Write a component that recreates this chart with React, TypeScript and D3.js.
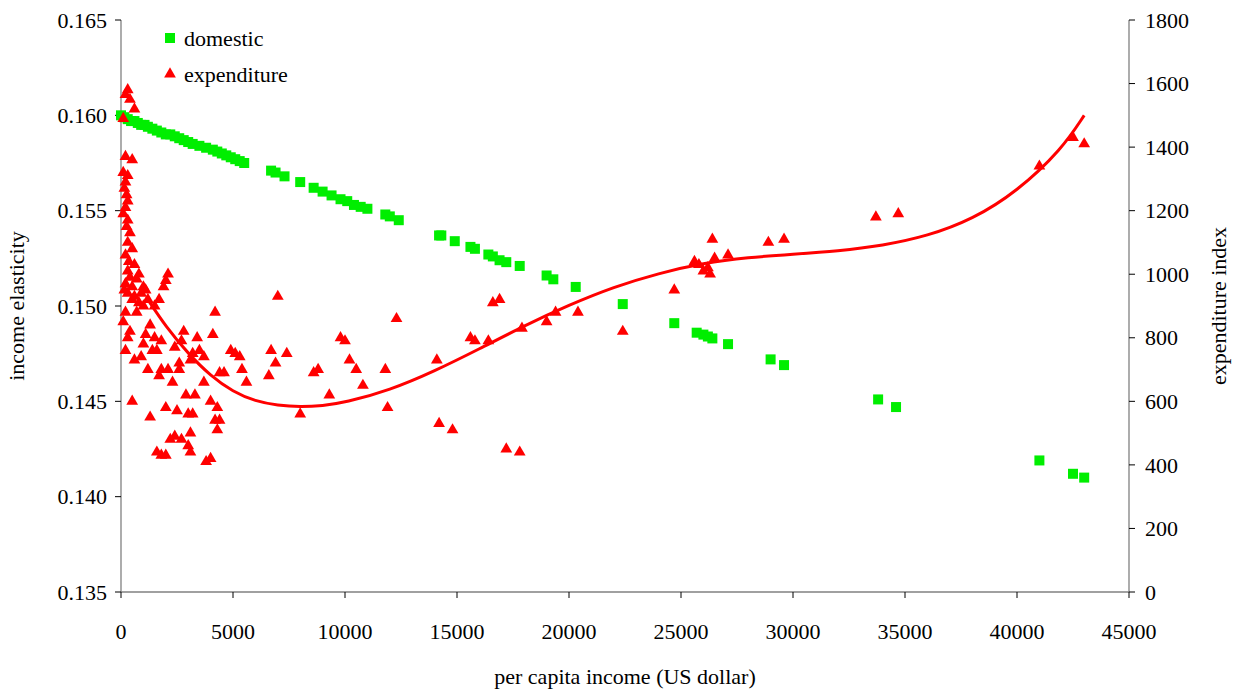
import React from 'react';
import * as d3 from 'd3';

const W = 1242, H = 693;
const M = { left: 121, right: 1129, top: 20, bottom: 592 };

const domesticIncome = [0, 150, 300, 450, 600, 750, 900, 1050, 1200, 1400, 1600, 1800, 2000, 2200, 2400, 2600, 2800, 3000, 3200, 3500, 3800, 4100, 4300, 4500, 4700, 4900, 5100, 5300, 5500, 6700, 6900, 7300, 8000, 8600, 9000, 9400, 9800, 10100, 10400, 10700, 11000, 11800, 12000, 12400, 14200, 14300, 14900, 15600, 15800, 16400, 16600, 16900, 17200, 17800, 19000, 19300, 20300, 22400, 24700, 25700, 26000, 26200, 26400, 27100, 29000, 29600, 33800, 34600, 41000, 42500, 43000];
const domesticValue = [0.1600, 0.1599, 0.1598, 0.1597, 0.1597, 0.1596, 0.1595, 0.1595, 0.1594, 0.1593, 0.1592, 0.1591, 0.1590, 0.1590, 0.1589, 0.1588, 0.1587, 0.1586, 0.1585, 0.1584, 0.1583, 0.1582, 0.1581, 0.1580, 0.1579, 0.1578, 0.1577, 0.1576, 0.1575, 0.1571, 0.1570, 0.1568, 0.1565, 0.1562, 0.1560, 0.1558, 0.1556, 0.1555, 0.1553, 0.1552, 0.1551, 0.1548, 0.1547, 0.1545, 0.1537, 0.1537, 0.1534, 0.1531, 0.1530, 0.1527, 0.1526, 0.1524, 0.1523, 0.1521, 0.1516, 0.1514, 0.1510, 0.1501, 0.1491, 0.1486, 0.1485, 0.1484, 0.1483, 0.1480, 0.1472, 0.1469, 0.1451, 0.1447, 0.1419, 0.1412, 0.1410];

const expIncome = [300, 200, 400, 600, 100, 200, 500, 100, 300, 200, 150, 250, 300, 200, 100, 300, 250, 400, 300, 500, 200, 350, 600, 300, 400, 200, 500, 800, 700, 150, 300, 600, 900, 1000, 1100, 500, 800, 1200, 1000, 700, 1500, 1700, 2000, 2100, 1900, 200, 100, 400, 300, 200, 600, 1100, 1300, 1000, 1500, 1800, 1400, 1600, 900, 1200, 1800, 2100, 1700, 2700, 2800, 2400, 2600, 3200, 3100, 3700, 3500, 4200, 4100, 3400, 4400, 4600, 4900, 5100, 5300, 5400, 5600, 3700, 3300, 2900, 2600, 2300, 2000, 2500, 3000, 3200, 4000, 4300, 4200, 4400, 4300, 3100, 2700, 2200, 2400, 1800, 1600, 2000, 3100, 3000, 3800, 4000, 1300, 500, 6700, 6900, 7000, 6600, 7400, 8000, 8600, 8800, 9300, 9800, 10000, 10200, 10500, 10800, 11800, 11900, 12300, 14100, 14200, 14800, 15600, 15800, 16400, 16600, 16900, 17200, 17800, 17900, 19000, 19400, 20400, 22400, 24700, 25600, 25800, 26000, 26200, 26300, 26400, 26500, 27100, 28900, 29600, 33700, 34700, 41000, 42500, 43000];
const expIndex = [1580, 1565, 1550, 1520, 1490, 1370, 1360, 1320, 1310, 1290, 1270, 1250, 1230, 1210, 1190, 1170, 1150, 1130, 1100, 1080, 1060, 1040, 1030, 1010, 990, 970, 960, 1000, 985, 950, 940, 930, 940, 960, 950, 920, 910, 920, 900, 880, 900, 920, 980, 1000, 960, 880, 850, 820, 800, 760, 730, 810, 840, 780, 800, 790, 760, 760, 740, 700, 700, 700, 680, 790, 820, 770, 720, 750, 730, 740, 760, 880, 810, 800, 690, 690, 760, 750, 740, 700, 660, 660, 620, 620, 700, 660, 580, 570, 560, 560, 600, 580, 540, 540, 510, 500, 480, 480, 490, 430, 440, 430, 440, 460, 410, 420, 550, 600, 760, 720, 930, 680, 750, 560, 690, 700, 620, 800, 790, 730, 700, 650, 700, 580, 860, 730, 530, 510, 800, 790, 790, 910, 920, 450, 440, 830, 850, 880, 880, 820, 950, 1040, 1030, 1010, 1020, 1000, 1110, 1050, 1060, 1100, 1110, 1180, 1190, 1340, 1430, 1410];

const fitIncome = [1200, 2000, 3000, 4000, 5000, 6000, 7000, 8000, 9000, 10000, 12000, 14000, 16000, 18000, 20000, 22000, 24000, 26000, 28000, 30000, 32000, 34000, 36000, 38000, 40000, 42000, 43000];
const fitIndex = [920, 835, 750, 680, 630, 600, 587, 582, 586, 596, 635, 695, 765, 838, 903, 960, 1003, 1035, 1053, 1063, 1073, 1090, 1120, 1172, 1260, 1393, 1500];

const leftTicks = [0.135, 0.14, 0.145, 0.15, 0.155, 0.16, 0.165];
const rightTicks = [0, 200, 400, 600, 800, 1000, 1200, 1400, 1600, 1800];
const xTicks = [0, 5000, 10000, 15000, 20000, 25000, 30000, 35000, 40000, 45000];

const GREEN = '#00ee00';
const RED = '#ff0000';
const txt = { fontFamily: "'Liberation Serif', 'DejaVu Serif', serif", fontSize: 22 };

export default function App() {
  const x = d3.scaleLinear().domain([0, 45000]).range([M.left, M.right]);
  const yL = d3.scaleLinear().domain([0.135, 0.165]).range([M.bottom, M.top]);
  const yR = d3.scaleLinear().domain([0, 1800]).range([M.bottom, M.top]);
  const tri = d3.symbol().type(d3.symbolTriangle).size(60)() as string;
  const fitLine = d3.line<number>()
    .x((_, i) => x(fitIncome[i]))
    .y(d => yR(d))
    .curve(d3.curveBasis)(fitIndex) as string;

  return (
    <svg width={W} height={H} style={{ position: 'absolute', left: 0, top: 0, background: '#fff' }}>
      <g stroke="#808080" strokeWidth={1.3} fill="none">
        <line x1={M.left} x2={M.left} y1={M.top} y2={M.bottom} />
        <line x1={M.right} x2={M.right} y1={M.top} y2={M.bottom} />
        <line x1={M.left} x2={M.right} y1={M.bottom} y2={M.bottom} />
      </g>
      {leftTicks.map(t => (
        <g key={'l' + t}>
          <line x1={M.left - 6} x2={M.left} y1={yL(t)} y2={yL(t)} stroke="#000" />
          <text x={M.left - 14} y={yL(t)} dy="0.35em" textAnchor="end" style={txt}>{t.toFixed(3)}</text>
        </g>
      ))}
      {rightTicks.map(t => (
        <g key={'r' + t}>
          <line x1={M.right} x2={M.right + 6} y1={yR(t)} y2={yR(t)} stroke="#000" />
          <text x={M.right + 16} y={yR(t)} dy="0.35em" textAnchor="start" style={txt}>{t}</text>
        </g>
      ))}
      {xTicks.map(t => (
        <g key={'x' + t}>
          <line x1={x(t)} x2={x(t)} y1={M.bottom} y2={M.bottom + 6} stroke="#000" />
          <text x={x(t)} y={M.bottom + 47} textAnchor="middle" style={txt}>{t}</text>
        </g>
      ))}
      <text x={(M.left + M.right) / 2} y={684} textAnchor="middle" style={txt}>per capita income (US dollar)</text>
      <text transform={`translate(24,${(M.top + M.bottom) / 2}) rotate(-90)`} textAnchor="middle" style={txt}>income elasticity</text>
      <text transform={`translate(1226,${(M.top + M.bottom) / 2}) rotate(-90)`} textAnchor="middle" style={txt}>expenditure index</text>

      {domesticIncome.map((v, i) => (
        <rect key={'d' + i} x={x(v) - 5} y={yL(domesticValue[i]) - 5} width={10} height={10} fill={GREEN} />
      ))}
      {expIncome.map((v, i) => (
        <path key={'e' + i} d={tri} transform={`translate(${x(v)},${yR(expIndex[i])})`} fill={RED} />
      ))}
      <path d={fitLine} fill="none" stroke={RED} strokeWidth={3} />

      <rect x={165} y={33} width={10} height={10} fill={GREEN} />
      <text x={184} y={38} dy="0.35em" style={txt}>domestic</text>
      <path d={tri} transform="translate(170,74)" fill={RED} />
      <text x={184} y={74} dy="0.35em" style={txt}>expenditure</text>
    </svg>
  );
}
